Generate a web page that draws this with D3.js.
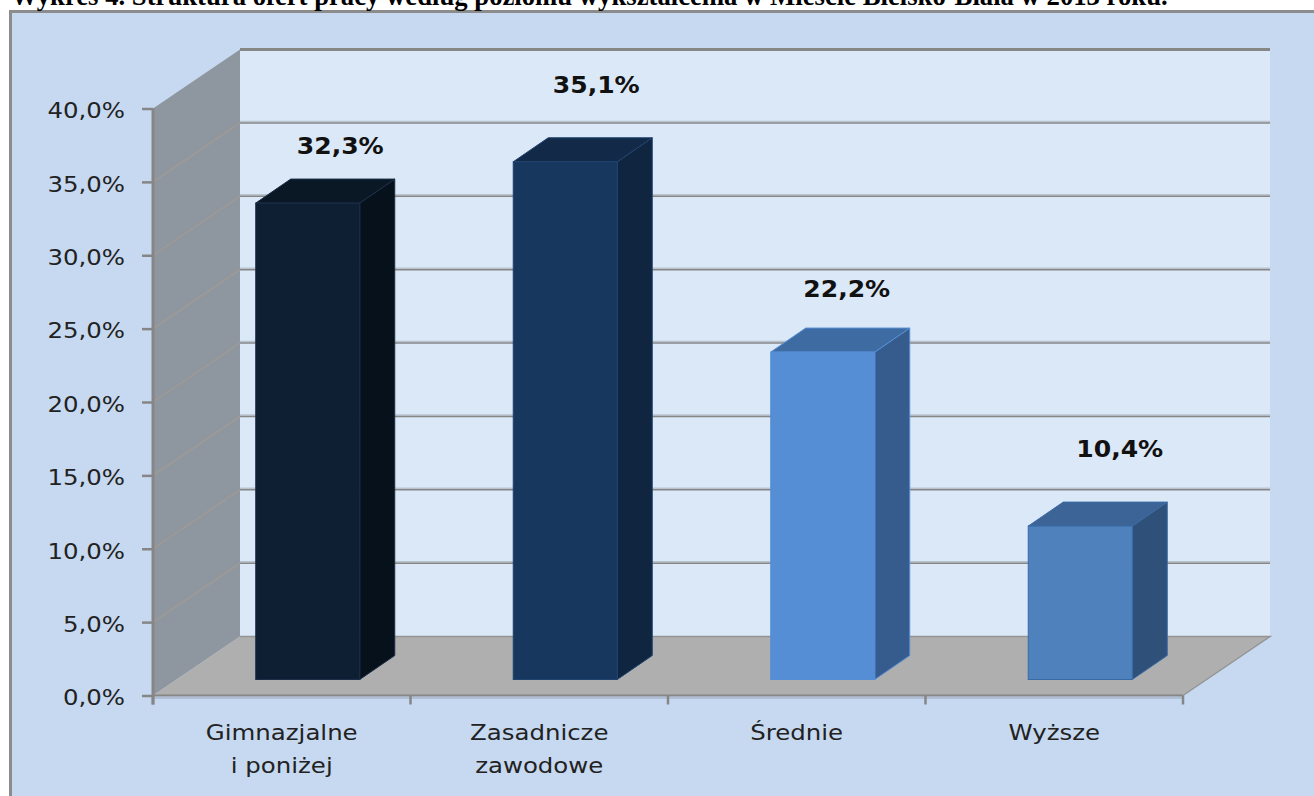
<!DOCTYPE html>
<html>
<head>
<meta charset="utf-8">
<script src="https://cdn.jsdelivr.net/npm/d3@7"></script>
<style>
  html, body { margin: 0; padding: 0; background: #fff; overflow: hidden; }
  svg { display: block; }
</style>
</head>
<body>
<svg id="chart" width="1314" height="796"></svg>
<script>
const chartTitle = "Wykres 4. Struktura ofert pracy według poziomu wykształcenia w Mieście Bielsko-Biała w 2013 roku.";
const categories = ["Gimnazjalne|i poniżej", "Zasadnicze|zawodowe", "Średnie", "Wyższe"];
const values = [32.3, 35.1, 22.2, 10.4];
const valueLabels = ["32,3%", "35,1%", "22,2%", "10,4%"];
const yTicks = [0, 5, 10, 15, 20, 25, 30, 35, 40];
const frontColors = ["#0e1f33", "#17375e", "#558ed5", "#4f81bd"];
const topColors = ["#0a1725", "#122a48", "#3f6ba3", "#3d6496"];
const sideColors = ["#07111b", "#102540", "#355c8c", "#2f5078"];
const edgeColors = ["#1a2e47", "#1f436f", "#558ed5", "#3a6aa5"];

// hand placed label offsets, from the top of each bar
const labelDx = [32.5, 31, 24, 39.5];
const labelDy = [49.5, 69, 55, 69];

const svg = d3.select("#chart");
const fmt = d3.format(".1f");
const axisColor = "#868686";

const left = 153, right = 1183;
const y = d3.scaleLinear().domain([0, 40]).range([695.5, 108.5]);
// bars stand further back on the floor, so their scale is a little different
const barY = d3.scaleLinear().domain([0, 40]).range([679.5, 89.5]);
const x = d3.scaleBand().domain(categories).range([left, right]).paddingInner(0.596).paddingOuter(0.298);

// 3d offsets
const wallDx = 87, wallDy = -59;
const floorDx = 26;
const barDx = 35, barDy = -24;

// stretch a text sideways, the original font is wider than what we have
function stretch(sel, k) {
    sel.each(function() {
        const len = this.getComputedTextLength();
        d3.select(this).attr("textLength", len * k).attr("lengthAdjust", "spacingAndGlyphs");
    });
}

// background + frame
svg.append("rect").attr("x", 10.5).attr("y", 11.5).attr("width", 1310).attr("height", 800)
    .attr("fill", "#c6d9f0").attr("stroke", "#8c8c8c").attr("stroke-width", 3);

// back wall
svg.append("rect").attr("x", left + wallDx).attr("y", y(40) + wallDy)
    .attr("width", right - left).attr("height", y(0) - y(40))
    .attr("fill", "#dbe8f7");

// side wall
svg.append("path")
    .attr("d", `M${left},${y(0)}L${left + wallDx},${y(0) + wallDy}L${left + wallDx},${y(40) + wallDy}L${left},${y(40)}Z`)
    .attr("fill", "#8e979f");

// floor
svg.append("path")
    .attr("d", `M${left},${y(0)}L${left + wallDx},${y(0) + wallDy}L${right + wallDx},${y(0) + wallDy}L${right},${y(0)}Z`)
    .attr("fill", "#afafaf");
svg.append("path")
    .attr("d", `M${left + wallDx},${y(0) + wallDy}L${right + wallDx},${y(0) + wallDy}L${right},${y(0)}`)
    .attr("fill", "none").attr("stroke", "#949494").attr("stroke-width", 1.5);

// gridlines
yTicks.filter(d => d > 0).forEach(d => {
    if (d < 40) {
        svg.append("line")
            .attr("x1", left + wallDx).attr("x2", right + wallDx)
            .attr("y1", y(d) + wallDy - 1.5).attr("y2", y(d) + wallDy - 1.5)
            .attr("stroke", "#b9c3cf").attr("stroke-width", 1.5);
    }
    svg.append("line")
        .attr("x1", left + wallDx).attr("x2", right + wallDx)
        .attr("y1", y(d) + wallDy).attr("y2", y(d) + wallDy)
        .attr("stroke", axisColor).attr("stroke-width", d === 40 ? 3 : 1.5);
    if (d < 40) {
        svg.append("line")
            .attr("x1", left).attr("x2", left + wallDx)
            .attr("y1", y(d)).attr("y2", y(d) + wallDy)
            .attr("stroke", "#a09a94").attr("stroke-width", 1.5);
    }
});

// axes
const yAxis = d3.axisLeft(y).tickValues(yTicks).tickFormat(d => fmt(d).replace(".", ",") + "%").tickSize(11).tickPadding(17);
const gy = svg.append("g").attr("transform", `translate(${left},0)`).call(yAxis);
gy.selectAll("text")
    .attr("font-family", "'DejaVu Sans'").attr("font-size", 22).attr("fill", "#222")
    .attr("dy", "0.42em")
    .call(stretch, 1.11);
gy.select(".domain").remove();
gy.selectAll("line").attr("stroke", axisColor).attr("stroke-width", 2.5);

svg.append("line").attr("x1", left).attr("x2", right).attr("y1", y(0) + 2.5).attr("y2", y(0) + 2.5)
    .attr("stroke", "#aebfd6").attr("stroke-width", 2);
svg.append("line").attr("x1", left).attr("x2", left).attr("y1", y(40)).attr("y2", y(0) + 9)
    .attr("stroke", axisColor).attr("stroke-width", 3);
svg.append("line").attr("x1", left).attr("x2", right).attr("y1", y(0)).attr("y2", y(0))
    .attr("stroke", axisColor).attr("stroke-width", 2);
d3.range(5).map(i => left + i * x.step()).forEach(d => {
    svg.append("line").attr("x1", d).attr("x2", d).attr("y1", y(0)).attr("y2", y(0) + 9)
        .attr("stroke", axisColor).attr("stroke-width", 2.5);
});

// bars
const bars = svg.selectAll(".bar").data(values).join("g").attr("class", "bar");

const bx = i => x(categories[i]) + floorDx;
const by0 = barY(0);

bars.append("path")
    .attr("d", (d, i) => {
        const r = bx(i) + x.bandwidth(), t = barY(d);
        return `M${r},${by0}L${r + barDx},${by0 + barDy}L${r + barDx},${t + barDy}L${r},${t}Z`;
    })
    .attr("fill", (d, i) => sideColors[i])
    .attr("stroke", (d, i) => edgeColors[i])
    .attr("stroke-width", 1);
bars.append("path")
    .attr("d", (d, i) => {
        const l = bx(i), r = l + x.bandwidth(), t = barY(d);
        return `M${l},${t}L${l + barDx},${t + barDy}L${r + barDx},${t + barDy}L${r},${t}Z`;
    })
    .attr("fill", (d, i) => topColors[i])
    .attr("stroke", (d, i) => edgeColors[i])
    .attr("stroke-width", 1);
bars.append("rect")
    .attr("x", (d, i) => bx(i))
    .attr("y", d => barY(d))
    .attr("width", x.bandwidth())
    .attr("height", d => by0 - barY(d))
    .attr("fill", (d, i) => frontColors[i])
    .attr("stroke", (d, i) => edgeColors[i])
    .attr("stroke-width", 1);

// value labels
bars.append("text")
    .attr("x", (d, i) => bx(i) + x.bandwidth() / 2 + labelDx[i])
    .attr("y", (d, i) => barY(d) - labelDy[i])
    .attr("text-anchor", "middle")
    .attr("font-family", "'DejaVu Sans'")
    .attr("font-weight", 700)
    .attr("font-size", 23)
    .attr("fill", "#111")
    .text((d, i) => valueLabels[i])
    .call(stretch, 1.09);

// category labels
categories.forEach((c, i) => {
    const lines = c.split("|");
    lines.forEach((s, j) => {
        svg.append("text")
            .attr("text-anchor", "middle")
            .attr("font-family", "'DejaVu Sans'")
            .attr("font-size", 22)
            .attr("fill", "#222")
            .attr("x", x(c) + x.bandwidth() / 2)
            .attr("y", 740 + j * 33)
            .text(s)
            .call(stretch, 1.11);
    });
});

// title, the top of it is cut off by the page edge in the original too
svg.append("text")
    .attr("x", 11).attr("y", 5)
    .attr("font-family", "'Liberation Serif'")
    .attr("font-weight", 700)
    .attr("font-size", 26.7)
    .attr("fill", "#000")
    .text(chartTitle);
</script>
</body>
</html>
